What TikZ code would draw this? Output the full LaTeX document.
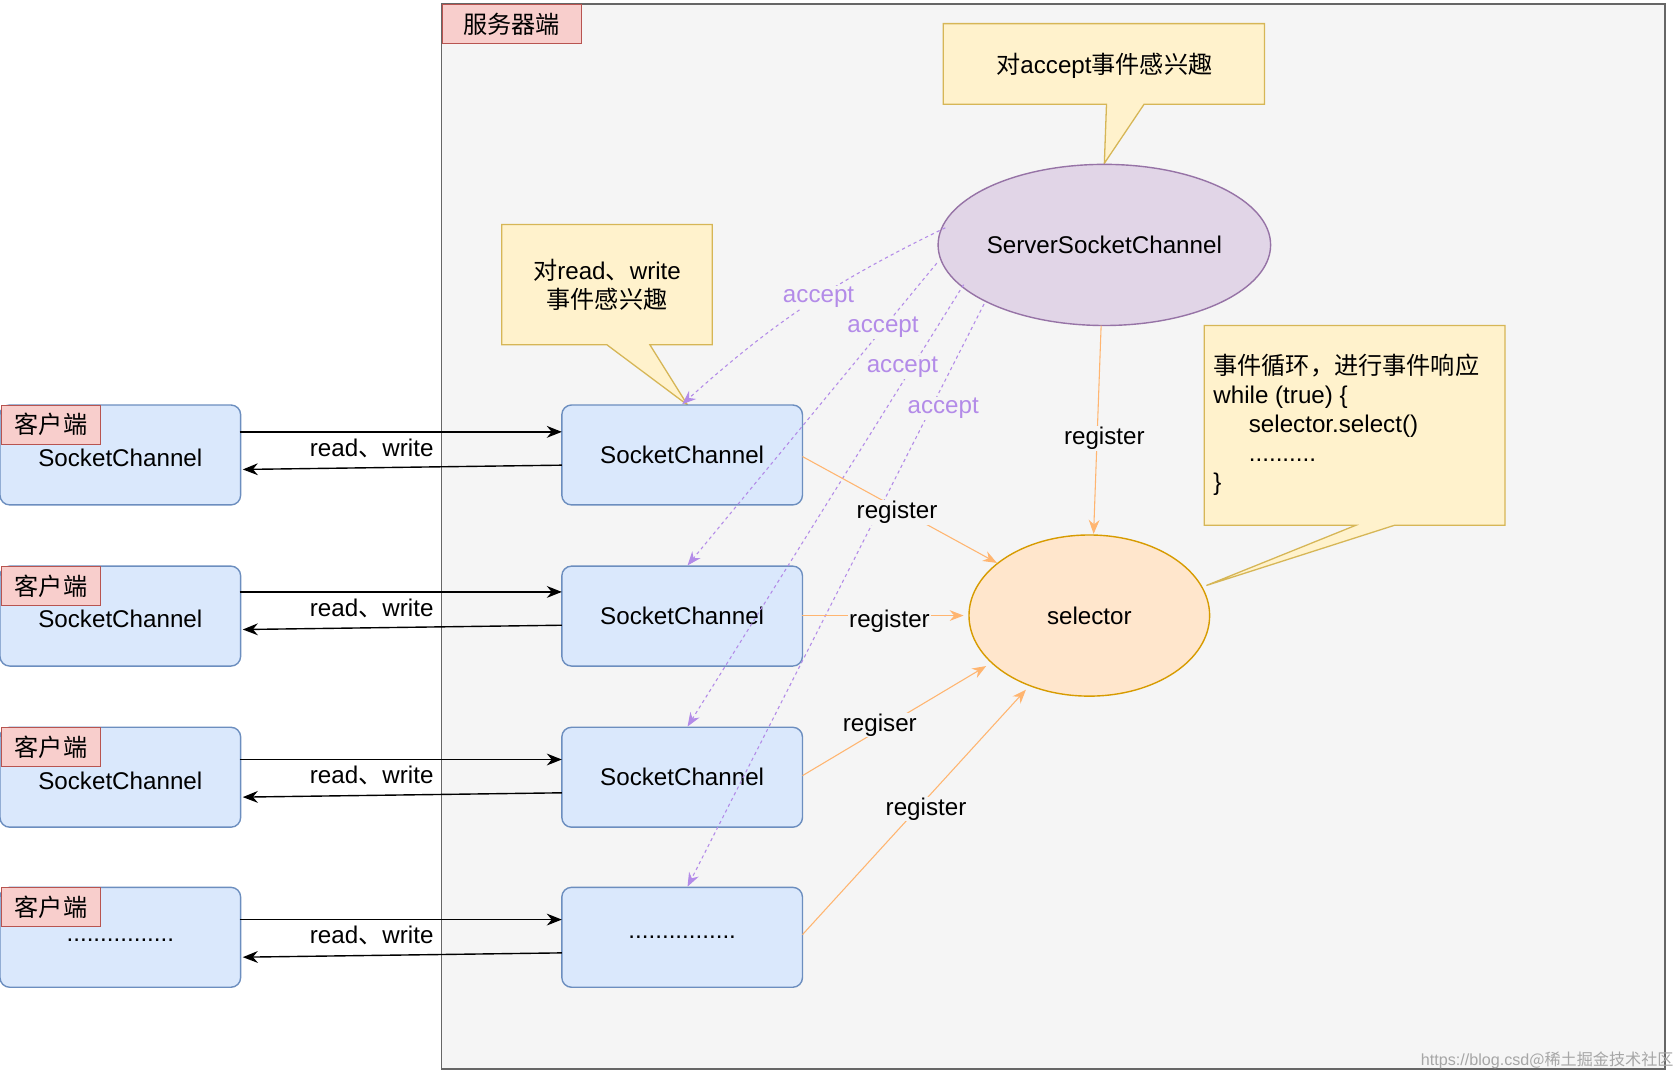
\documentclass[tikz,border=0pt]{standalone}
\usepackage{fontspec}
\setmainfont{Liberation Sans}
\newfontfamily\cjk{Noto Sans CJK SC}
\usetikzlibrary{shapes.geometric,arrows.meta}
\definecolor{srvfill}{HTML}{F5F5F5}
\definecolor{srvline}{HTML}{666666}
\definecolor{pinkf}{HTML}{F8CECC}
\definecolor{pinkl}{HTML}{B85450}
\definecolor{yelf}{HTML}{FFF2CC}
\definecolor{yell}{HTML}{D6B656}
\definecolor{purf}{HTML}{E1D5E7}
\definecolor{purl}{HTML}{9673A6}
\definecolor{oraf}{HTML}{FFE6CC}
\definecolor{oral}{HTML}{D79B00}
\definecolor{bluf}{HTML}{DAE8FC}
\definecolor{blul}{HTML}{6C8EBF}
\definecolor{acc}{HTML}{B38BE8}
\definecolor{reg}{HTML}{FFB570}
\newcommand\mydots{................}
\begin{document}
\begin{tikzpicture}[x=1pt,y=-1pt,
  every node/.style={font=\fontsize{22.5}{27}\selectfont},
  box/.style={draw=blul,fill=bluf,rounded corners=9pt,line width=1.3pt,minimum width=224pt,minimum height=93pt,inner sep=0pt},
  tag/.style={draw=pinkl,fill=pinkf,line width=0.8pt,minimum width=92pt,minimum height=36pt,inner sep=0pt,anchor=north west},
  rw/.style={-{Stealth[length=14pt,width=11pt]},line width=1.3pt,black},
  accl/.style={-{Stealth[length=13pt,width=10pt]},dashed,acc,line width=1pt},
  regl/.style={-{Stealth[length=13pt,width=10pt]},reg,line width=1pt},
  acct/.style={text=acc,fill=srvfill,inner sep=1pt},
  regt/.style={fill=srvfill,inner sep=1pt},
  call/.style={draw=yell,fill=yelf,line width=1.2pt}]
\useasboundingbox (0,0) rectangle (1562,998);
\fill[white] (0,0) rectangle (1562,998);
% server
\draw[srvline,fill=srvfill,line width=1.5pt] (411,4) rectangle (1550,995);
\node[draw=pinkl,fill=pinkf,line width=0.8pt,minimum width=130pt,minimum height=36pt,inner sep=0pt,anchor=north west] (srvtag) at (411,4) {\cjk 服务器端};
% callouts
\draw[call] (878,22)--(1177,22)--(1177,97)--(1065,97)--(1028,152)--(1030,97)--(878,97)--cycle;
\node (c1) at (1028,61) {{\cjk 对}accept{\cjk 事件感兴趣}};
\draw[call] (467,209)--(663,209)--(663,321)--(605,321)--(640,377)--(565,321)--(467,321)--cycle;
\node[align=center] (c2) at (565,265) {{\cjk 对}read{\cjk 、}write\\{\cjk 事件感兴趣}};
\draw[call] (1121,303)--(1401,303)--(1401,489)--(1298,489)--(1123,545)--(1262,489)--(1121,489)--cycle;
\node[align=left,anchor=north west] (c3) at (1126,326) {{\cjk 事件循环，进行事件响应}\\while (true) \{\\\hspace{33pt}selector.select()\\\hspace{33pt}..........\\\}};
% ellipses
\node[ellipse,draw=purl,fill=purf,line width=1.3pt,minimum width=300pt,minimum height=150pt,inner sep=0pt] (ssc) at (1028,228) {ServerSocketChannel};
\node[ellipse,draw=oral,fill=oraf,line width=1.3pt,minimum width=224pt,minimum height=150pt,inner sep=0pt] (sel) at (1014,573) {selector};
% client & server boxes
\foreach \i/\y/\t in {1/423.5/SocketChannel,2/573.5/SocketChannel,3/723.5/SocketChannel,4/872.5/\mydots}{
  \node[box] (cl\i) at (112,\y) {};
  \node (clt\i) at (112,\y+3) {\t};
  \node[tag] (tg\i) at (1,\y-46.5) {\cjk 客户端};
  \node[box] (sc\i) at (635,\y) {\t};
}
% read/write arrows
\foreach \i/\y in {1/402,2/551,3/707,4/856}{
  \coordinate (a\i) at (223,\y); \coordinate (b\i) at (523,\y);
  \coordinate (c\i) at (523,\y+31); \coordinate (d\i) at (226,\y+35);
  \draw[rw] (a\i) -- (b\i);
  \draw[rw] (c\i) -- (d\i);
  \node (rwl\i) at (346,\y+15) {read{\cjk 、}write};
}
% accept
\coordinate (s1) at (880,212); \coordinate (s2) at (872,245);
\coordinate (s3) at (897,265); \coordinate (s4) at (916,283);
\draw[accl] (s1) to[bend right=8] (sc1.north);
\draw[accl] (s2) -- ([xshift=5pt]sc2.north);
\draw[accl] (s3) -- ([xshift=5pt]sc3.north);
\draw[accl] (s4) -- ([xshift=5pt]sc4.north);
\node[acct] (al1) at (762,277) {accept};
\node[acct] (al2) at (822,305) {accept};
\node[acct] (al3) at (840,342) {accept};
\node[acct] (al4) at (878,380) {accept};
% register
\coordinate (r0) at (1025,303); \coordinate (e0) at (1018,497);
\draw[regl] (r0) -- (e0);
\coordinate (r1) at (747,425); \coordinate (e1) at (928,524);
\draw[regl] (r1) -- (e1);
\coordinate (r2) at (747,573); \coordinate (e2) at (897,573);
\draw[regl] (r2) -- (e2);
\coordinate (r3) at (747,722); \coordinate (e3) at (918,620);
\draw[regl] (r3) -- (e3);
\coordinate (r4) at (747,870); \coordinate (e4) at (955,642);
\draw[regl] (r4) -- (e4);
\node[regt] (rl0) at (1028,408) {register};
\node[regt] (rl1) at (835,477) {register};
\node[regt] (rl2) at (828,578) {register};
\node[regt] (rl3) at (819,675) {regiser};
\node[regt] (rl4) at (862,753) {register};
% watermark
\node[anchor=south east,text=black!35,font=\fontsize{15}{17}\selectfont,inner sep=2pt] (wm) at (1560,997) {https://blog.csd{\cjk @稀土掘金技术社区}};
\end{tikzpicture}
\end{document}
